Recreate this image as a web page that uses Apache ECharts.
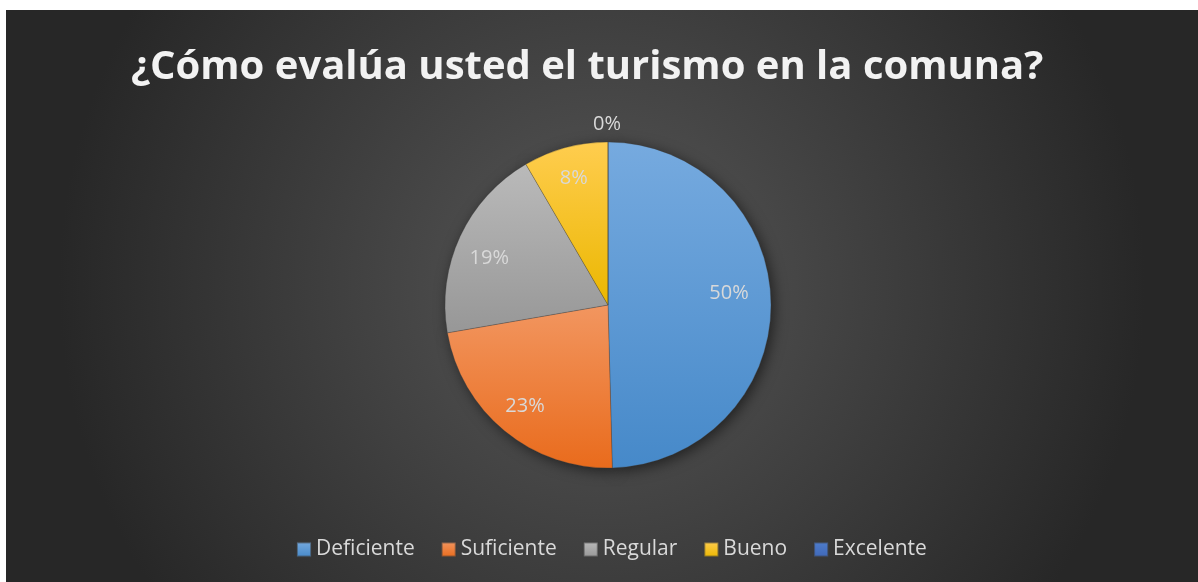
<!DOCTYPE html>
<html>
<head>
<meta charset="utf-8">
<script src="https://cdn.jsdelivr.net/npm/echarts@6/dist/echarts.min.js"></script>
<style>
  html, body { margin: 0; padding: 0; background: #ffffff; }
  #chart { position: absolute; left: 6px; top: 10px; width: 1192px; height: 572px; }
</style>
</head>
<body>
<div id="chart"></div>
<script>
// Survey answers: how residents rate tourism in the commune
const titleText = '¿Cómo evalúa usted el turismo en la comuna?';
const categories = ['Deficiente', 'Suficiente', 'Regular', 'Bueno', 'Excelente'];
const responses = [59, 27, 23, 10, 0];

// Slice fills: lighter at the top, darker at the bottom
const topColors = ['#76aadf', '#f29660', '#bababa', '#ffcd4f', '#4f7dcc'];
const bottomColors = ['#4689c9', '#e96b1c', '#979797', '#ebb700', '#3f68b8'];

// nudges for individual percentage labels
const labelOffsets = [[-10, -10], [0, 0], [0, 9], [0, 0], [-1, -50]];

const chart = echarts.init(document.getElementById('chart'));

function fill(i) {
  return {
    type: 'linear', x: 0, y: 0, x2: 0, y2: 1,
    colorStops: [
      { offset: 0, color: topColors[i] },
      { offset: 1, color: bottomColors[i] }
    ]
  };
}

const center = [602, 295];
const radius = 163;

const sliceData = categories.map((name, i) => ({
  name: name,
  value: responses[i],
  itemStyle: { color: fill(i) }
}));

// label ring: same slices, transparent, used only to place the percentages
const labelData = categories.map((name, i) => ({
  name: name,
  value: responses[i],
  label: { offset: labelOffsets[i] }
}));

const shadowData = categories.map((name, i) => ({ name: name, value: responses[i] }));

chart.setOption({
  backgroundColor: {
    type: 'radial', x: 0.5, y: 0.48, r: 0.95,
    colorStops: [
      { offset: 0, color: '#575757' },
      { offset: 1, color: '#272727' }
    ]
  },
  title: {
    text: titleText,
    left: 120,
    top: 33,
    textStyle: {
      fontFamily: 'Open Sans',
      fontWeight: 'bold',
      fontSize: 40,
      color: '#f2f2f2'
    }
  },
  legend: {
    data: categories,
    bottom: 17,
    left: 285,
    icon: 'rect',
    itemWidth: 14,
    itemHeight: 14,
    itemGap: 26,
    selectedMode: false,
    textStyle: { fontFamily: 'Open Sans', fontSize: 21, color: '#d9d9d9' }
  },
  series: [
    {
      type: 'pie',
      name: 'slices',
      center: center,
      radius: radius,
      startAngle: 90,
      clockwise: true,
      z: 2,
      animation: false,
      label: { show: false },
      labelLine: { show: false },
      emphasis: { disabled: true },
      itemStyle: { borderColor: 'rgba(60,60,60,0.5)', borderWidth: 0.6 },
      data: sliceData
    },
    {
      type: 'pie',
      name: 'shadow',
      center: center,
      radius: radius,
      startAngle: 90,
      clockwise: true,
      z: 1,
      silent: true,
      animation: false,
      label: { show: false },
      labelLine: { show: false },
      emphasis: { disabled: true },
      itemStyle: {
        color: '#3a3a3a',
        shadowBlur: 14,
        shadowColor: 'rgba(0,0,0,0.55)',
        shadowOffsetX: 3,
        shadowOffsetY: 3
      },
      data: shadowData
    },
    {
      type: 'pie',
      name: 'labels',
      center: center,
      radius: [106, 150],
      startAngle: 90,
      clockwise: true,
      z: 3,
      silent: true,
      animation: false,
      percentPrecision: 0,
      itemStyle: { color: 'rgba(0,0,0,0)' },
      emphasis: { disabled: true },
      labelLine: { show: false },
      label: {
        show: true,
        position: 'inside',
        formatter: '{d}%',
        fontFamily: 'Open Sans',
        fontSize: 20,
        color: '#d9d9d9'
      },
      data: labelData
    }
  ]
});
</script>
</body>
</html>
